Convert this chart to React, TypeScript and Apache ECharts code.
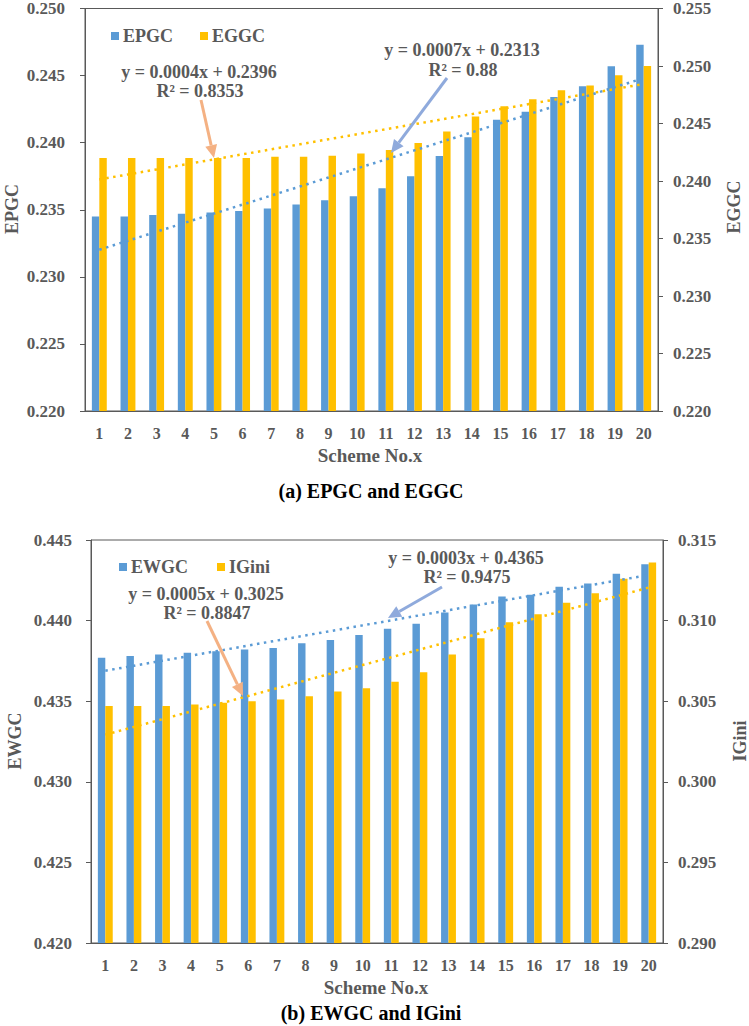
import React, { useEffect, useRef } from "react";
import * as echarts from "echarts";

const schemes = ["1","2","3","4","5","6","7","8","9","10","11","12","13","14","15","16","17","18","19","20"];
const epgc = [0.2345,0.2345,0.2346,0.2347,0.2348,0.2349,0.2351,0.2354,0.2357,0.2360,0.2366,0.2375,0.2390,0.2404,0.2417,0.2423,0.2434,0.2442,0.2457,0.2473];
const eggc = [0.2420,0.2420,0.2420,0.2420,0.2420,0.2420,0.2421,0.2421,0.2422,0.2424,0.2427,0.2433,0.2443,0.2456,0.2465,0.2471,0.2479,0.2483,0.2492,0.2500];
const ewgc = [0.4377,0.4378,0.4379,0.4380,0.4381,0.4382,0.4383,0.4386,0.4388,0.4391,0.4395,0.4398,0.4405,0.4410,0.4415,0.4416,0.4421,0.4423,0.4429,0.4435];
const igini = [0.3047,0.3047,0.3047,0.3048,0.3049,0.3050,0.3051,0.3053,0.3056,0.3058,0.3062,0.3068,0.3079,0.3089,0.3099,0.3104,0.3111,0.3117,0.3126,0.3136];

const eqTop = ["y = 0.0004x + 0.2396", "R² = 0.8353", "y = 0.0007x + 0.2313", "R² = 0.88"];
const eqBottom = ["y = 0.0005x + 0.3025", "R² = 0.8847", "y = 0.0003x + 0.4365", "R² = 0.9475"];

const BLUE = "#5B9BD5";
const GOLD = "#FFC000";
const GRAY = "#595959";
const FONT = "'Liberation Serif', 'Times New Roman', serif";

// least-squares trend (as Excel's linear trendline)
function trend(ys: number[]): number[] {
  const n = ys.length;
  const xs = ys.map((_, i) => i + 1);
  const mx = xs.reduce((a, b) => a + b, 0) / n;
  const my = ys.reduce((a, b) => a + b, 0) / n;
  let sxy = 0, sxx = 0;
  for (let i = 0; i < n; i++) {
    sxy += (xs[i] - mx) * (ys[i] - my);
    sxx += (xs[i] - mx) * (xs[i] - mx);
  }
  const a = sxy / sxx;
  const b = my - a * mx;
  return xs.map((x) => a * x + b);
}

function arrow(x1: number, y1: number, x2: number, y2: number, color: string) {
  const dx = x2 - x1, dy = y2 - y1;
  const len = Math.sqrt(dx * dx + dy * dy);
  const ux = dx / len, uy = dy / len;
  const hl = 13, hw = 6;
  const bx = x2 - ux * hl, by = y2 - uy * hl;
  return [
    { type: "line", shape: { x1, y1, x2: bx, y2: by }, style: { stroke: color, lineWidth: 3 }, z: 100 },
    {
      type: "polygon",
      shape: { points: [[x2, y2], [bx - uy * hw, by + ux * hw], [bx + uy * hw, by - ux * hw]] },
      style: { fill: color },
      z: 100,
    },
  ];
}

function txt(x: number, y: number, text: string, size: number, color: string, rotation = 0) {
  return {
    type: "text",
    x, y, rotation,
    z: 100,
    style: { text, fill: color, font: `bold ${size}px ${FONT}`, align: "center", verticalAlign: "middle" },
  };
}

export default function App() {
  const ref = useRef<HTMLDivElement>(null);
  useEffect(() => {
    document.body.style.margin = "0";
    const chart = echarts.init(ref.current!, null, { renderer: "svg" });
    const axisLabel = { color: GRAY, fontSize: 17, fontWeight: "bold", fontFamily: FONT };
    const yBase = (gridIndex: number, position: string, min: number, max: number, margin: number) => ({
      type: "value",
      gridIndex,
      position,
      min,
      max,
      interval: 0.005,
      splitLine: { show: false },
      axisLine: { show: true, lineStyle: { color: GRAY, width: 1 } },
      axisTick: { show: true, length: 5, lineStyle: { color: GRAY } },
      axisLabel: { ...axisLabel, margin, formatter: (v: number) => v.toFixed(3) },
    });
    const xBase = (gridIndex: number) => ({
      type: "category",
      gridIndex,
      data: schemes,
      axisLine: { lineStyle: { color: GRAY, width: 1 } },
      axisTick: { show: false },
      axisLabel: { ...axisLabel, fontSize: 16, margin: 14 },
    });
    const bar = (name: string, data: number[], color: string, xi: number, yi: number) => ({
      name, type: "bar", data, xAxisIndex: xi, yAxisIndex: yi,
      itemStyle: { color }, barGap: "0%", barCategoryGap: "48%",
    });
    const tl = (data: number[], color: string, xi: number, yi: number) => ({
      type: "line", data: data.map((v) => +v.toFixed(6)), xAxisIndex: xi, yAxisIndex: yi, symbol: "none",
      lineStyle: { color, width: 2.5, type: [2.5, 4.5] }, z: 5, silent: true,
    });
    const legendBase = {
      icon: "rect", itemWidth: 8, itemHeight: 8, itemGap: 27,
      textStyle: { color: GRAY, fontSize: 18, fontWeight: "bold", fontFamily: FONT, padding: [0, 0, 0, -1] },
      orient: "horizontal", selectedMode: false,
    };
    chart.setOption({
      animation: false,
      backgroundColor: "#fff",
      grid: [
        { left: 85, top: 7, width: 573, height: 404, show: true, borderColor: GRAY, borderWidth: 1 },
        { left: 91, top: 540, width: 572, height: 403, show: true, borderColor: GRAY, borderWidth: 1 },
      ],
      legend: [
        { ...legendBase, data: ["EPGC", "EGGC"], left: 106, top: 22 },
        { ...legendBase, data: ["EWGC", "IGini"], left: 114, top: 553, itemGap: 29 },
      ],
      xAxis: [xBase(0), xBase(1)],
      yAxis: [
        yBase(0, "left", 0.22, 0.25, 20),
        yBase(0, "right", 0.22, 0.255, 15),
        yBase(1, "left", 0.42, 0.445, 19),
        yBase(1, "right", 0.29, 0.315, 15),
      ],
      series: [
        bar("EPGC", epgc, BLUE, 0, 0),
        bar("EGGC", eggc, GOLD, 0, 1),
        tl(trend(epgc), BLUE, 0, 0),
        tl(trend(eggc), GOLD, 0, 1),
        bar("EWGC", ewgc, BLUE, 1, 2),
        bar("IGini", igini, GOLD, 1, 3),
        tl(trend(ewgc), BLUE, 1, 2),
        tl(trend(igini), GOLD, 1, 3),
      ],
      graphic: [
        ...arrow(201, 100, 214, 158, "#F4B183"),
        ...arrow(447, 78, 391, 153, "#8FAADC"),
        ...arrow(207, 621, 243, 696, "#F4B183"),
        ...arrow(442, 587, 388, 618, "#8FAADC"),
        txt(199, 72, eqTop[0], 18, GRAY),
        txt(200, 91, eqTop[1], 18, GRAY),
        txt(462, 50, eqTop[2], 18, GRAY),
        txt(463, 70, eqTop[3], 18, GRAY),
        txt(206, 594, eqBottom[0], 18, GRAY),
        txt(207, 613, eqBottom[1], 18, GRAY),
        txt(466, 558, eqBottom[2], 18, GRAY),
        txt(467, 577, eqBottom[3], 18, GRAY),
        txt(12, 209, "EPGC", 18, GRAY, Math.PI / 2),
        txt(734, 207, "EGGC", 18, GRAY, Math.PI / 2),
        txt(15, 741, "EWGC", 18, GRAY, Math.PI / 2),
        txt(740, 741, "IGini", 18, GRAY, Math.PI / 2),
        txt(370, 455, "Scheme No.x", 19, GRAY),
        txt(371, 491, "(a) EPGC and EGGC", 20, "#000"),
        txt(376, 987, "Scheme No.x", 19, GRAY),
        txt(371, 1013, "(b) EWGC and IGini", 20, "#000"),
      ],
    });
    return () => chart.dispose();
  }, []);
  return <div ref={ref} style={{ width: 749, height: 1026 }} />;
}
